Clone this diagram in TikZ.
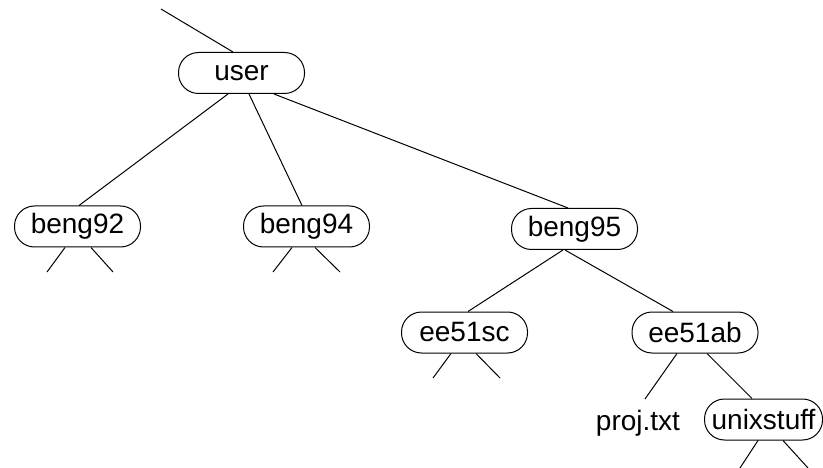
\documentclass[tikz,border=0pt]{standalone}
\usepackage{fontspec}
\setmainfont{Liberation Sans}
\begin{document}
\begin{tikzpicture}[x=1pt,y=-1pt,
  dirbox/.style={draw, line width=1pt, rounded corners=20pt, minimum width=126pt, minimum height=41pt, inner sep=0pt, font=\fontsize{28}{30}\selectfont},
  filetxt/.style={inner sep=0pt, font=\fontsize{28}{30}\selectfont},
  edge/.style={line width=1pt}]
\useasboundingbox (0,0) rectangle (823,468);
\node[dirbox] (user) at (241.5,73) {user};
\node[dirbox] (beng92) at (77.5,226.5) {beng92};
\node[dirbox] (beng94) at (306.5,226.5) {beng94};
\node[dirbox] (beng95) at (574.5,229) {beng95};
\node[dirbox] (ee51sc) at (464.5,332.5) {ee51sc};
\node[dirbox] (ee51ab) at (695,332.5) {ee51ab};
\node[filetxt] (proj) at (638,423) {proj.txt};
\node[dirbox, minimum width=118pt] (unix) at (763.5,419.5) {unixstuff};
% free ends
\coordinate (top) at (161,9);
\coordinate (pj) at (645,399);
\coordinate (a1) at (47,272); \coordinate (a2) at (113,272);
\coordinate (b1) at (273,272); \coordinate (b2) at (340,272);
\coordinate (c1) at (433,378); \coordinate (c2) at (500,378);
\coordinate (d1) at (740,468); \coordinate (d2) at (808,468);
% connectors
\draw[edge] (top) -- ([xshift=-8.5pt]user.north);
\draw[edge] ([xshift=-13.5pt]user.south) -- ([xshift=1.5pt]beng92.north);
\draw[edge] ([xshift=7.5pt]user.south) -- ([xshift=-4.5pt]beng94.north);
\draw[edge] ([xshift=32.5pt]user.south) -- ([xshift=-6.5pt]beng95.north);
\draw[edge] ([xshift=-11.5pt]beng95.south) -- ([xshift=3.5pt]ee51sc.north);
\draw[edge] ([xshift=-9.5pt]beng95.south) -- ([xshift=-22pt]ee51ab.north);
\draw[edge] ([xshift=-18pt]ee51ab.south) -- (pj);
\draw[edge] ([xshift=12pt]ee51ab.south) -- ([xshift=-11.5pt]unix.north);
\draw[edge] ([xshift=-12.5pt]beng92.south) -- (a1);
\draw[edge] ([xshift=13.5pt]beng92.south) -- (a2);
\draw[edge] ([xshift=-14.5pt]beng94.south) -- (b1);
\draw[edge] ([xshift=8.5pt]beng94.south) -- (b2);
\draw[edge] ([xshift=-13.5pt]ee51sc.south) -- (c1);
\draw[edge] ([xshift=11.5pt]ee51sc.south) -- (c2);
\draw[edge] ([xshift=-5.5pt]unix.south) -- (d1);
\draw[edge] ([xshift=19.5pt]unix.south) -- (d2);
\end{tikzpicture}
\end{document}
